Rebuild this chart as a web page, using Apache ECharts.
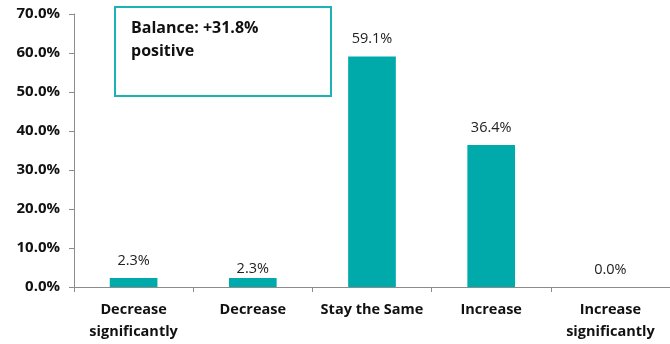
<!DOCTYPE html>
<html><head><meta charset="utf-8">
<script src="https://cdn.jsdelivr.net/npm/echarts@6/dist/echarts.min.js"></script>
<style>html,body{margin:0;padding:0;background:#fff}#c{width:670px;height:344px}</style>
</head><body><div id="c"></div>
<script>
const categories = ["Decrease\nsignificantly", "Decrease", "Stay the Same", "Increase", "Increase\nsignificantly"];
const values = [2.3, 2.3, 59.1, 36.4, 0.0];
const balanceText = "Balance: +31.8%\npositive";
const FONT = "'Open Sans', sans-serif";
const chart = echarts.init(document.getElementById('c'));
const seriesData = values.map((v, i) => i === 1 ? {value: v, label: {distance: 2}} : {value: v});
chart.setOption({
  animation: false,
  grid: {left: 74, right: 0, top: 14, bottom: 57},
  xAxis: {
    type: 'category', data: categories,
    axisLine: {lineStyle: {color: '#8c8c8c', width: 1}},
    axisTick: {show: true, alignWithLabel: false, length: 5, lineStyle: {color: '#8c8c8c'}},
    axisLabel: {color: '#111', fontFamily: FONT, fontWeight: 'bold', fontSize: 14.5, lineHeight: 22, margin: 12, interval: 0}
  },
  yAxis: {
    type: 'value', min: 0, max: 70, interval: 10,
    axisLine: {show: true, lineStyle: {color: '#8c8c8c'}},
    axisTick: {show: true, length: 5, lineStyle: {color: '#8c8c8c'}},
    splitLine: {show: false},
    axisLabel: {color: '#111', fontFamily: FONT, fontWeight: 'bold', fontSize: 15, margin: 14, formatter: v => v.toFixed(1) + '%'}
  },
  series: [{
    type: 'bar', data: seriesData, barWidth: '40%',
    itemStyle: {color: '#00AAAA'},
    label: {show: true, position: 'top', distance: 10, color: '#222', fontFamily: FONT, fontSize: 14.5, formatter: p => p.value.toFixed(1) + '%'}
  }],
  graphic: [
    {type: 'rect', left: 114, top: 6, shape: {width: 216, height: 89}, style: {fill: '#fff', stroke: '#1BB3B3', lineWidth: 2}},
    {type: 'text', left: 131, top: 17, style: {text: balanceText, font: "bold 16px 'Open Sans', sans-serif", lineHeight: 23, fill: '#111'}}
  ]
});
</script></body></html>
